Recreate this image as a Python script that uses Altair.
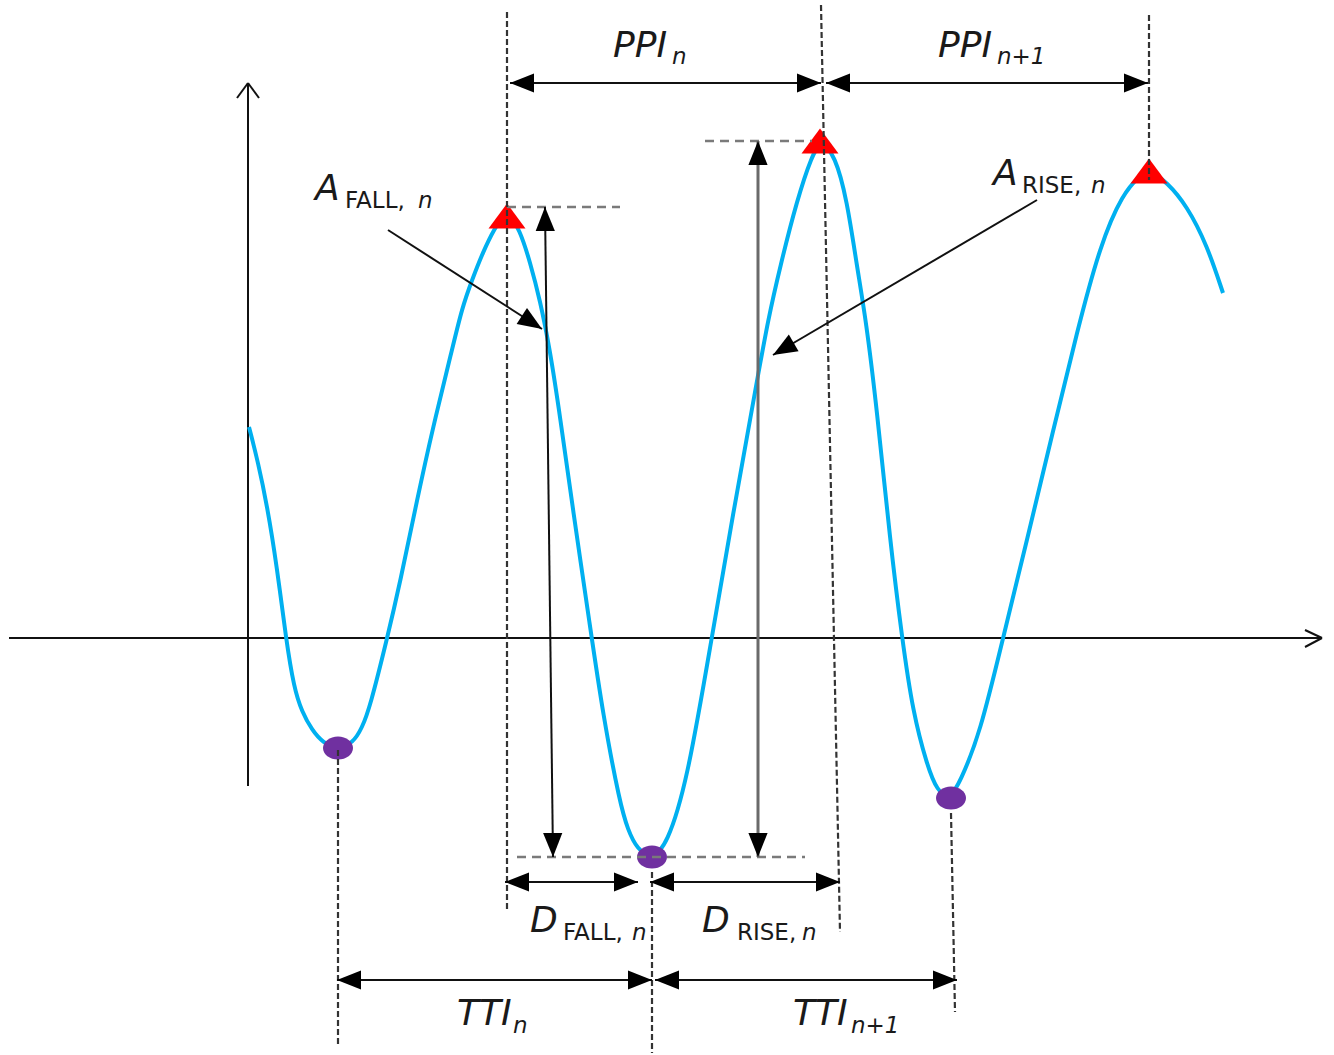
import math
import altair as alt
import pandas as pd

W, H = 1334, 1055

# ---- blue pulse wave (pixel space, y downwards)
wave_x = [249, 258, 267, 277, 286, 294, 302, 312, 323, 338, 353, 362, 370, 387, 400,
          417, 433, 452, 462, 472, 483, 494, 507, 520, 530, 540, 550, 560, 573, 590,
          603, 620, 628, 637, 652, 667, 687, 710, 733, 757, 768, 780, 797, 812, 821,
          835, 847, 857, 866, 877, 890, 902, 913, 927, 937, 950, 960, 980, 1003, 1027,
          1053, 1077, 1100, 1123, 1140, 1149, 1167, 1187, 1207, 1223]
wave_y = [427, 462, 505, 567, 639, 688, 712, 730, 743, 749, 743, 728, 707, 639, 583,
          500, 427, 350, 308, 280, 252, 229, 210, 230, 262, 300, 350, 416, 510, 626,
          715, 804, 830, 849, 859, 845, 782, 648, 514, 381, 320, 267, 200, 155, 141,
          155, 200, 267, 320, 410, 540, 638, 713, 765, 791, 799, 782, 734, 638, 540,
          431, 332, 245, 193, 176, 170, 182, 206, 245, 293]

# ---- peaks (red triangles) and troughs (purple dots)
peak_x = [507, 820, 1149]
peak_y = [216, 141, 171]
trough_x = [338, 652, 951]
trough_y = [748, 857, 798]

# ---- coordinate axes with open arrow tips
axis_x1 = [9, 248, 237, 259, 1305, 1305]
axis_y1 = [638, 786, 98, 98, 630, 647]
axis_x2 = [1322, 248, 248, 248, 1322, 1322]
axis_y2 = [638, 83, 83, 83, 638, 638]

# ---- dark dotted vertical guides
vg_x1 = [507, 821, 1149, 338, 652, 951]
vg_y1 = [12, 5, 15, 750, 872, 813]
vg_x2 = [507, 840, 1149, 338, 652, 955]
vg_y2 = [912, 932, 180, 1045, 1053, 1012]

# ---- grey dashed level lines
hg_x1 = [507, 705, 517]
hg_y = [207, 141, 857]
hg_x2 = [620, 812, 805]

# ---- double-headed dimension arrows
dim_x1 = [510, 826, 545, 505, 650, 337, 655]
dim_y1 = [83, 83, 207, 882, 882, 980, 980]
dim_x2 = [821, 1148, 553, 638, 840, 652, 957]
dim_y2 = [83, 83, 857, 882, 882, 980, 980]

# grey amplitude arrow (A_RISE)
rise_x1 = [758]
rise_y1 = [141]
rise_x2 = [758]
rise_y2 = [857]

# ---- single-headed pointer arrows from the A labels
ptr_x1 = [388, 1037]
ptr_y1 = [230, 200]
ptr_x2 = [542, 773]
ptr_y2 = [329, 355]

# ---- labels: main letters (italic) and subscripts
main_text = ["PPI", "PPI", "A", "A", "D", "D", "TTI", "TTI"]
main_x = [613, 938, 315, 993, 530, 702, 457, 793]
main_y = [57, 57, 200, 185, 932, 932, 1025, 1025]

sub_it_text = ["n", "n+1", "n", "n", "n", "n", "n", "n+1"]
sub_it_x = [672, 997, 418, 1091, 632, 802, 513, 851]
sub_it_y = [64, 64, 208, 193, 940, 940, 1033, 1033]

sub_up_text = ["FALL,", "RISE,", "FALL,", "RISE,"]
sub_up_x = [345, 1022, 563, 737]
sub_up_y = [208, 193, 940, 940]

MAIN_SIZE = 36
SUB_SIZE = 23

# ---------------------------------------------------------------------------
xs = alt.Scale(domain=[0, W], nice=False, zero=False)
ys = alt.Scale(domain=[H, 0], nice=False, zero=False)


def X(f):
    return alt.X(f"{f}:Q", scale=xs, axis=None)


def Y(f):
    return alt.Y(f"{f}:Q", scale=ys, axis=None)


def segs(x1, y1, x2, y2, color, width, dash=None):
    df = pd.DataFrame({"x1": x1, "y1": y1, "x2": x2, "y2": y2})
    mk = dict(color=color, strokeWidth=width)
    if dash:
        mk["strokeDash"] = dash
    return alt.Chart(df).mark_rule(**mk).encode(
        x=X("x1"), y=Y("y1"), x2=alt.X2("x2:Q"), y2=alt.Y2("y2:Q")
    )


axes = segs(axis_x1, axis_y1, axis_x2, axis_y2, "#111111", 2)

wave_df = pd.DataFrame({"x": wave_x, "y": wave_y, "i": list(range(len(wave_x)))})
wave = alt.Chart(wave_df).mark_line(
    color="#00B0F0", strokeWidth=4, interpolate="basis"
).encode(x=X("x"), y=Y("y"), order="i:Q")

TRI = "M0,-0.675L1,0.675L-1,0.675Z"
peaks = alt.Chart(pd.DataFrame({"x": peak_x, "y": peak_y})).mark_point(
    shape=TRI, filled=True, size=1369, color="#FF0000", opacity=1, strokeWidth=0
).encode(x=X("x"), y=Y("y"))

ELL = "M-1,0A1,0.77 0 1,0 1,0A1,0.77 0 1,0 -1,0Z"
troughs = alt.Chart(pd.DataFrame({"x": trough_x, "y": trough_y})).mark_point(
    shape=ELL, filled=True, size=900, color="#7030A0", opacity=1, strokeWidth=0
).encode(x=X("x"), y=Y("y"))

hguides = segs(hg_x1, hg_y, hg_x2, hg_y, "#7a7a7a", 2.5, [9, 6])
vguides = segs(vg_x1, vg_y1, vg_x2, vg_y2, "#333333", 2.2, [6, 3])

dims = segs(dim_x1, dim_y1, dim_x2, dim_y2, "#111111", 2)
rise = segs(rise_x1, rise_y1, rise_x2, rise_y2, "#6a6a6a", 3)
ptrs = segs(ptr_x1, ptr_y1, ptr_x2, ptr_y2, "#111111", 2)

# arrow heads: tip positions and pointing angles derived from the segments
head_x, head_y, head_a = [], [], []


def add_head(tx, ty, fx, fy):
    head_x.append(tx)
    head_y.append(ty)
    head_a.append(math.degrees(math.atan2(ty - fy, tx - fx)) % 360)


for a, b, c, d in zip(dim_x1 + rise_x1, dim_y1 + rise_y1, dim_x2 + rise_x2, dim_y2 + rise_y2):
    add_head(c, d, a, b)
    add_head(a, b, c, d)
for a, b, c, d in zip(ptr_x1, ptr_y1, ptr_x2, ptr_y2):
    add_head(c, d, a, b)

HEAD = "M0,0L-2,-0.8L-2,0.8Z"
heads = alt.Chart(pd.DataFrame({"x": head_x, "y": head_y, "a": head_a})).mark_point(
    shape=HEAD, filled=True, size=576, color="#000000", opacity=1, strokeWidth=0
).encode(x=X("x"), y=Y("y"), angle=alt.Angle("a:Q", scale=None))


def texts(t, x, y, size, style):
    df = pd.DataFrame({"t": t, "x": x, "y": y})
    return alt.Chart(df).mark_text(
        align="left", baseline="alphabetic", font="DejaVu Sans",
        fontStyle=style, fontSize=size, color="#1a1a1a"
    ).encode(x=X("x"), y=Y("y"), text="t:N")


t_main = texts(main_text, main_x, main_y, MAIN_SIZE, "italic")
t_sub_it = texts(sub_it_text, sub_it_x, sub_it_y, SUB_SIZE, "italic")
t_sub_up = texts(sub_up_text, sub_up_x, sub_up_y, SUB_SIZE, "normal")

chart = alt.layer(
    axes, wave, peaks, troughs, hguides, vguides, dims, rise, ptrs, heads,
    t_main, t_sub_it, t_sub_up
).properties(
    width=W, height=H, padding=0,
    autosize=alt.AutoSizeParams(type="none"),
    background="white",
).configure_view(strokeWidth=0)

chart.save("out.html", embed_options={"renderer": "svg", "actions": False})
